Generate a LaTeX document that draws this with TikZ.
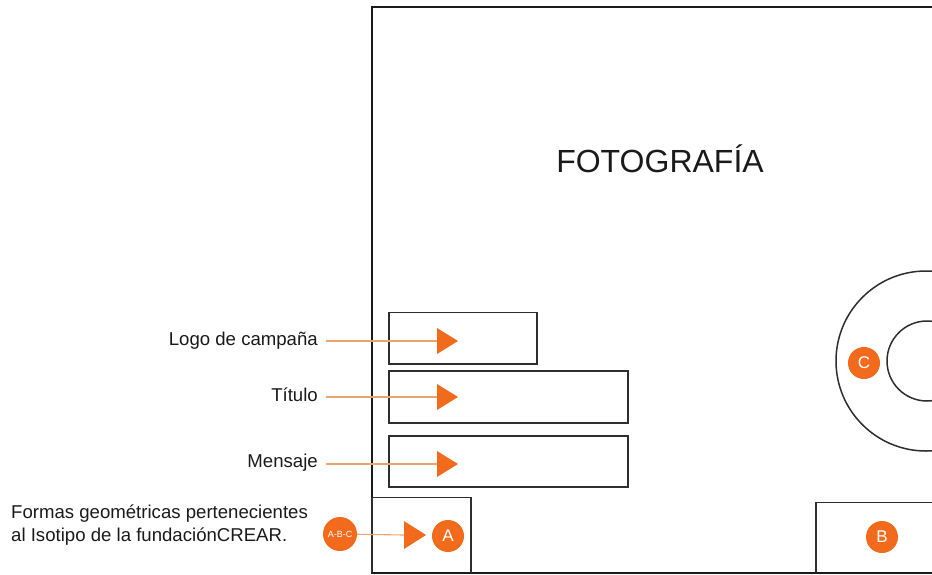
\documentclass[tikz,border=0pt]{standalone}
\usepackage{fontspec}
\setmainfont{Liberation Sans}
\definecolor{ink}{HTML}{1A1A1A}
\definecolor{boxline}{HTML}{2E2E2E}
\definecolor{accent}{HTML}{F26B1C}
\definecolor{leader}{HTML}{E9A66C}
\tikzset{
  frameline/.style={draw=ink, line width=1.8pt},
  areabox/.style={draw=boxline, line width=1.5pt},
  label/.style={text=ink, font=\fontsize{18.6}{22.5}\selectfont, inner sep=0pt},
  badge/.style={circle, fill=accent, text=white, minimum size=32pt, inner sep=0pt,
                font=\fontsize{17}{17}\selectfont},
  pointer/.style={fill=accent, draw=none},
  leaderline/.style={draw=leader, line width=1.1pt},
}
\begin{document}
\begin{tikzpicture}[x=1pt, y=-1pt]
\useasboundingbox (0,0) rectangle (932,574);
\begin{scope}
\clip (0,0) rectangle (932,574);
% photo frame, running off the right edge
\draw[frameline] (940,573) -- (372,573) -- (372,7) -- (940,7);
% isotype shapes
\draw[areabox] (372,573) -- (372,497.5) -- (471,497.5) -- (471,573);
\draw[areabox] (816,573) -- (816,502.5) -- (940,502.5);
\draw[areabox] (926,361) circle (90);
\draw[areabox] (927,361) circle (40);
\end{scope}

\node[text=ink, font=\fontsize{32}{32}\selectfont, inner sep=0pt, anchor=base] (foto) at (660,172) {FOTOGRAFÍA};

% content areas
\draw[areabox] (389,312.5) rectangle (537,364);
\draw[areabox] (389,371) rectangle (628,423);
\draw[areabox] (389,436) rectangle (628,487);

% labels and their pointers
\node[label, anchor=east] (logo) at (318,341) {Logo de campaña};
\node[label, anchor=east] (titulo) at (318,395) {Título};
\node[label, anchor=east] (mensaje) at (318,463) {Mensaje};

\coordinate (pl) at (437,341);
\coordinate (pt) at (437,397);
\coordinate (pm) at (437,464);
\draw[leaderline] ([xshift=8pt]logo.east |- pl) -- (pl);
\draw[leaderline] ([xshift=8pt]logo.east |- pt) -- (pt);
\draw[leaderline] ([xshift=8pt]logo.east |- pm) -- (pm);
\foreach \p in {pl,pt,pm}
  \fill[pointer] ([yshift=-13pt]\p) -- ([xshift=21pt]\p) -- ([yshift=13pt]\p) -- cycle;

% isotype legend
\node[label, anchor=north west, align=left] (formas) at (11,505)
  {Formas geométricas pertenecientes\\al Isotipo de la fundaciónCREAR.};
\node[badge, minimum size=34pt, font=\fontsize{9}{9}\selectfont] (abc) at (340,534) {A-B-C};
\coordinate (pa) at (404,535);
\draw[leaderline] (abc) -- (pa);
\fill[pointer] ([yshift=-14pt]pa) -- ([xshift=22pt]pa) -- ([yshift=14pt]pa) -- cycle;

\node[badge] (a) at (448,536) {A};
\node[badge] (b) at (882,537) {B};
\node[badge] (c) at (864,363) {C};
\end{tikzpicture}
\end{document}
